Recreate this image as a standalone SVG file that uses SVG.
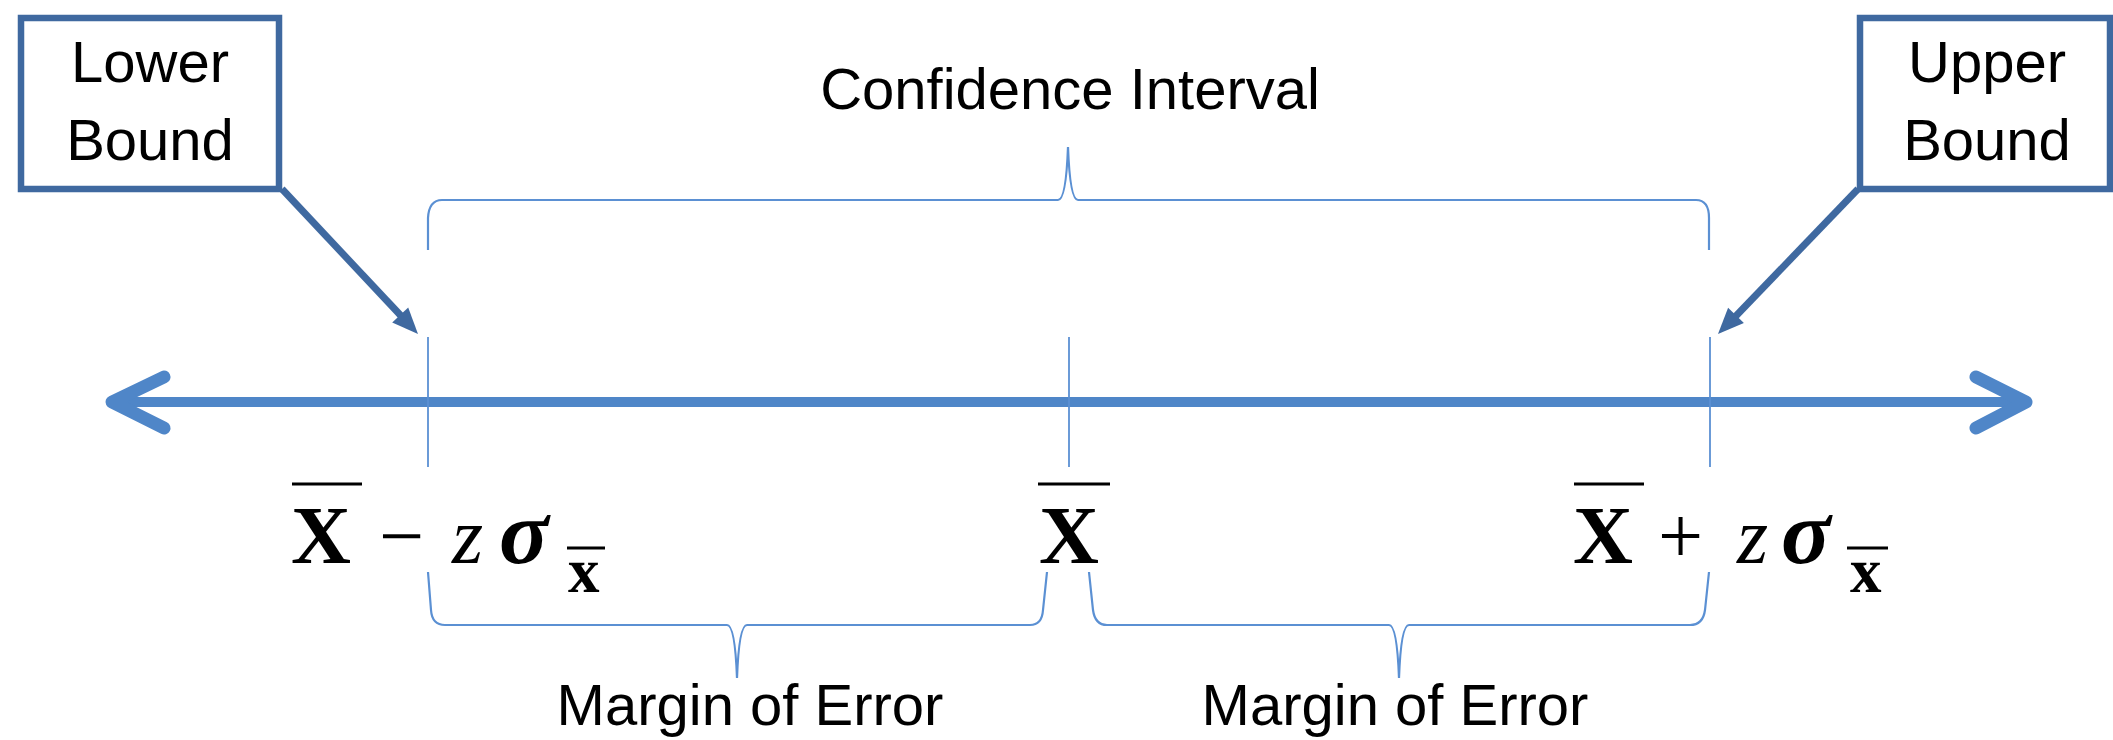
<svg xmlns="http://www.w3.org/2000/svg" width="2113" height="740" viewBox="0 0 2113 740">
<style>
.lbl{font-family:"Liberation Sans",Arial,sans-serif;font-size:58px;fill:#000;text-anchor:middle}
.box{fill:#fff;stroke:#3f69a0;stroke-width:6.5}
.call{stroke:#3f69a0;stroke-width:7;fill:none}
.head{fill:#3f69a0}
.brace{fill:none;stroke:#5b90d3;stroke-width:2.2}
.tick{stroke:#5b90d3;stroke-width:1.8}
.axis{stroke:#4f86c8;stroke-width:10;fill:none}
.chev{stroke:#4f86c8;stroke-width:13;fill:none;stroke-linecap:round;stroke-linejoin:round}
.X{font-family:"Liberation Serif","Times New Roman",serif;font-size:83px;font-weight:bold}
.op{font-family:"Liberation Serif","Times New Roman",serif;font-size:80px}
.z{font-family:"Liberation Serif","Times New Roman",serif;font-size:80px;font-style:italic}
.sig{font-family:"Liberation Serif","Times New Roman",serif;font-size:92px;font-style:italic;font-weight:bold}
.sx{font-family:"Liberation Serif","Times New Roman",serif;font-size:63px;font-weight:bold}
.bar{stroke:#000;stroke-width:3}
</style>
<rect width="2113" height="740" fill="#fff"/>

<g id="connectors">
  <line class="axis" x1="112" y1="402" x2="2026" y2="402"/>
  <polyline class="chev" points="164,377 112,402 164,428"/>
  <polyline class="chev" points="1976,377 2026,402 1976,428"/>
  <line class="tick" x1="428" y1="337" x2="428" y2="467"/>
  <line class="tick" x1="1069" y1="337" x2="1069" y2="467"/>
  <line class="tick" x1="1710" y1="337" x2="1710" y2="467"/>
  <path class="brace" d="M428,250 L428,218 Q429,200 442,200 L1058,200 Q1066,200 1068,147 Q1070,200 1078,200 L1696,200 Q1709,200 1709,218 L1709,250"/>
  <path class="brace" d="M428,572 L431,610 Q432,625 445,625 L727,625 Q735,625 737,678 Q739,625 747,625 L1030,625 Q1042,625 1043,610 L1047,572"/>
  <path class="brace" d="M1089,572 L1093,610 Q1095,625 1107,625 L1389,625 Q1397,625 1399,678 Q1401,625 1409,625 L1690,625 Q1703,625 1705,610 L1709,572"/>
  <line class="call" x1="282" y1="189" x2="404" y2="319"/>
  <polygon class="head" points="418,334 392.2,322.5 408.2,307.5"/>
  <line class="call" x1="1858" y1="189" x2="1733" y2="319"/>
  <polygon class="head" points="1718,334 1743.9,322.9 1728.1,307.7"/>
</g>

<g id="lower-bound">
  <rect class="box" x="21" y="18" width="258" height="171"/>
  <text class="lbl" x="150" y="82">Lower</text>
  <text class="lbl" x="150" y="160">Bound</text>
</g>

<g id="upper-bound">
  <rect class="box" x="1860" y="18" width="250" height="171"/>
  <text class="lbl" x="1987" y="82">Upper</text>
  <text class="lbl" x="1987" y="160">Bound</text>
</g>

<g id="confidence-interval">
  <text class="lbl" x="1070" y="109">Confidence Interval</text>
</g>

<g id="margin-left">
  <text class="lbl" x="750" y="725">Margin of Error</text>
</g>
<g id="margin-right">
  <text class="lbl" x="1395" y="725">Margin of Error</text>
</g>

<g id="formula-lower">
  <line class="bar" x1="292" y1="484" x2="362" y2="484"/>
  <text class="X" x="291" y="563">X</text>
  <text class="op" x="379" y="563">−</text>
  <text class="z" x="452" y="563">z</text>
  <text class="sig" x="499" y="563">σ</text>
  <line class="bar" x1="567" y1="548" x2="605" y2="548"/>
  <text class="sx" x="568" y="592">x</text>
</g>

<g id="formula-mean">
  <line class="bar" x1="1038" y1="484" x2="1110" y2="484"/>
  <text class="X" x="1039" y="563">X</text>
</g>

<g id="formula-upper">
  <line class="bar" x1="1574" y1="484" x2="1644" y2="484"/>
  <text class="X" x="1573" y="563">X</text>
  <text class="op" x="1658" y="563">+</text>
  <text class="z" x="1737" y="563">z</text>
  <text class="sig" x="1781" y="563">σ</text>
  <line class="bar" x1="1847" y1="548" x2="1888" y2="548"/>
  <text class="sx" x="1850" y="592">x</text>
</g>
</svg>
